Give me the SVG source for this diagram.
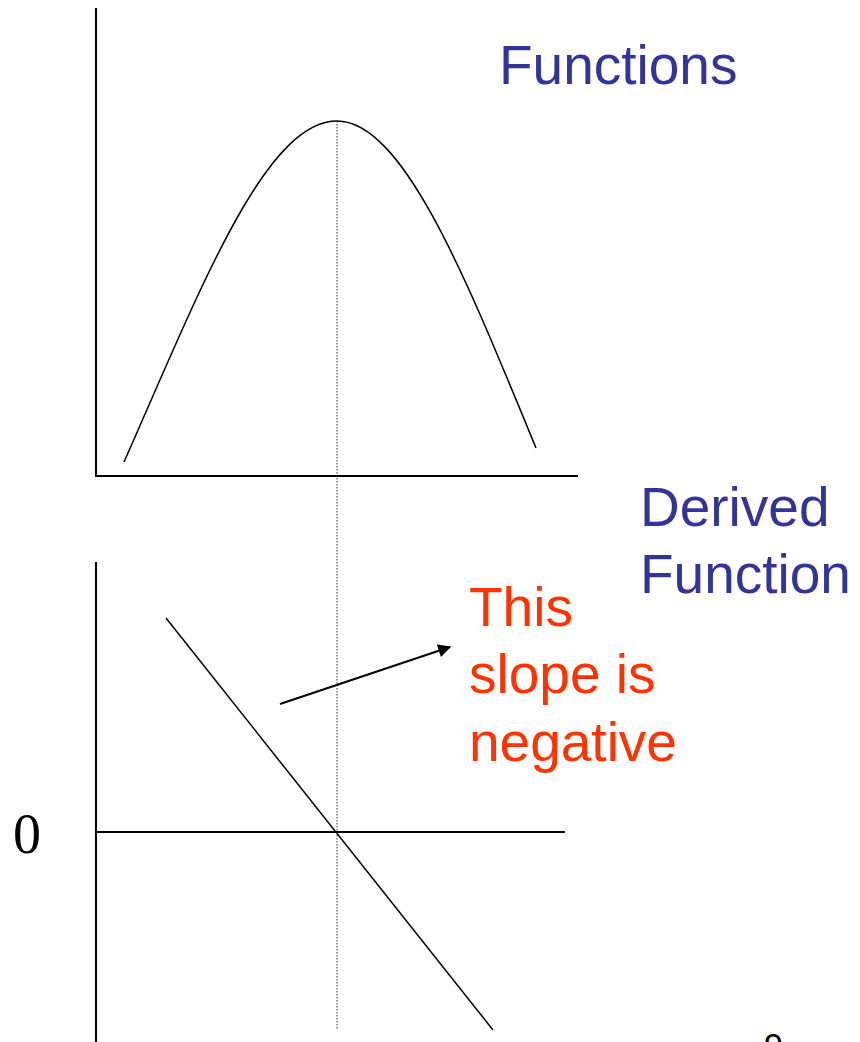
<svg xmlns="http://www.w3.org/2000/svg" width="860" height="1042" viewBox="0 0 860 1042">
<style>
.ax{stroke:#000;stroke-width:2;fill:none}
.ln{stroke:#000;stroke-width:1.5;fill:none}
.dot{stroke:#333;stroke-width:1;stroke-dasharray:1.5 1.5;fill:none}
.blue{font-family:"Liberation Sans",Arial,sans-serif;font-size:55px;fill:#333399}
.red{font-family:"Liberation Sans",Arial,sans-serif;font-size:55px;fill:#FF3300}
</style>
<defs>
<marker id="ah" viewBox="0 0 10 10" refX="9" refY="5" markerWidth="7.5" markerHeight="6.5" orient="auto" markerUnits="strokeWidth">
<path d="M0,0 L10,5 L0,10 z" fill="#000"/>
</marker>
</defs>
<rect width="860" height="1042" fill="#fff"/>
<g id="top-graph">
<line class="ax" x1="96" y1="8" x2="96" y2="477"/>
<line class="ax" x1="95" y1="476" x2="578" y2="476"/>
<path class="ln" d="M124,462 C200,290 265,121 337,121 C404,121 468,283 536,448"/>
</g>
<g id="bottom-graph">
<line class="ax" x1="96" y1="562" x2="96" y2="1042"/>
<line class="ax" x1="95" y1="832" x2="565" y2="832"/>
<line class="ln" x1="166" y1="618" x2="493" y2="1030"/>
</g>
<g id="connectors">
<line class="dot" x1="337" y1="121" x2="337" y2="1030"/>
<line x1="280" y1="704" x2="450" y2="647" stroke="#000" stroke-width="2" marker-end="url(#ah)"/>
</g>
<g id="labels">
<text class="blue" x="499" y="84">Functions</text>
<text class="blue" x="640" y="526">Derived</text>
<text class="blue" x="640" y="593">Function</text>
<text class="red" x="469" y="626">This</text>
<text class="red" x="469" y="693">slope is</text>
<text class="red" x="469" y="761">negative</text>
<text x="13" y="853" font-family="'Liberation Serif','Times New Roman',serif" font-size="56" fill="#000">0</text>
<text x="764" y="1057" font-family="'Liberation Sans',Arial,sans-serif" font-size="34" fill="#000">9</text>
</g>
</svg>
